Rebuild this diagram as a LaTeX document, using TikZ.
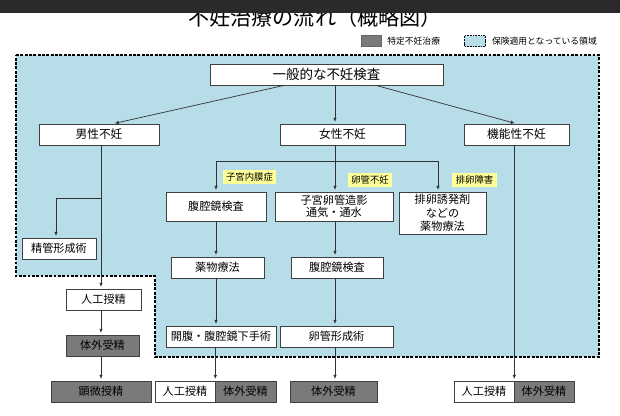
\documentclass[tikz,border=0pt]{standalone}
\usepackage{fontspec}
\setmainfont{Noto Sans CJK JP}
\usepackage{tikz}
\usetikzlibrary{arrows.meta, calc, positioning}
\definecolor{areablue}{RGB}{183,221,232}
\definecolor{ivfgray}{RGB}{122,122,122}
\definecolor{barblack}{RGB}{42,42,44}
\definecolor{memoyellow}{RGB}{255,255,153}
\tikzset{
	box/.style={draw=black!75, line width=0.5pt, fill=white, minimum width=#1*0.03cm,
		minimum height=0.63cm, inner sep=1pt, align=center,
		font=\fontsize{9.5}{11}\selectfont},
	box/.default=100,
	graybox/.style={box=#1, fill=ivfgray},
	graybox/.default=100,
	tag/.style={fill=memoyellow, inner xsep=3pt, inner ysep=2.5pt, font=\fontsize{8}{9}\selectfont}
}
\tikzset{
	flow/.style={draw=black!80, line width=0.6pt, -{Latex[length=3.5pt,width=3pt]}, shorten >=1.5pt},
	link/.style={draw=black!80, line width=0.6pt},
	legendtext/.style={font=\fontsize{7.5}{9}\selectfont, inner sep=1pt}
}

\begin{document}
\begin{tikzpicture}[x=0.03cm, y=-0.03cm]
      \useasboundingbox (0,0) rectangle (620,415);
      % area covered by insurance
      \fill[areablue] (16,55) -- (599,55) -- (599,357) -- (155,357) -- (155,276) -- (16,276) -- cycle;
      \draw[line width=0.9pt, dash pattern=on 2.5pt off 1.2pt]
        (16,55) -- (599,55) -- (599,357) -- (155,357) -- (155,276) -- (16,276) -- cycle;
      % title, half under the viewer bar
      \node[font=\fontsize{18}{21}\selectfont] (title) at (315,17) {不妊治療の流れ（概略図）};
      \fill[barblack] (0,0) rectangle (620,13);
      % legend
      \node[draw=black!60, fill=ivfgray, minimum width=0.6cm, minimum height=0.33cm, inner sep=0pt] (lgray) at (371,41) {};
      \node[legendtext, right=4pt of lgray] (lgraytx) {特定不妊治療};
      \node[draw, line width=0.8pt, dash pattern=on 1.5pt off 0.8pt, fill=areablue, minimum width=0.63cm,
        minimum height=0.33cm, inner sep=0pt] (lblue) at (475,41) {};
      \node[legendtext, right=4pt of lblue] (lbluetx) {保険適用となっている領域};

      \coordinate (mcol) at (101,0);
      \coordinate (fcol) at (335,0);
      \coordinate (mbr) at (56,198);
      \coordinate (fbrL) at (216,161);
      \coordinate (fbrR) at (438,161);

      \node[box=233, font=\fontsize{11.5}{13}\selectfont] (gen) at (326.5,74.5) {一般的な不妊検査};
      \node[box=120, font=\fontsize{10}{12}\selectfont] (male) at (99,134.5) {男性不妊};
      \node[box=125, font=\fontsize{10}{12}\selectfont] (female) at (342.5,134.5) {女性不妊};
      \node[box=105, font=\fontsize{10}{12}\selectfont] (func) at (516.5,134.5) {機能性不妊};

      \node[tag] (endo) at (249.5,177) {子宮内膜症};
      \node[tag] (tubal) at (370,180) {卵管不妊};
      \node[tag] (ovul) at (474.5,180) {排卵障害};

      \node[box=100, minimum height=0.87cm] (lap1) at (216,206.5) {腹腔鏡検査};
      \node[box=118, minimum height=0.87cm, font=\fontsize{9.5}{10.5}\selectfont] (hsg) at (334,206.5) {子宮卵管造影\\通気・通水};
      \node[box=87, minimum height=1.26cm, font=\fontsize{9.5}{11.5}\selectfont] (ovu) at (442.5,213) {排卵誘発剤\\などの\\薬物療法};
      \node[box=74] (vas) at (59,248.5) {精管形成術};
      \node[box=93] (drug) at (217.5,267.5) {薬物療法};
      \node[box=92] (lap2) at (337,267.5) {腹腔鏡検査};
      \node[box=75] (aih) at (103.5,299.5) {人工授精};
      \node[graybox=73] (ivfm) at (102.5,345.5) {体外受精};
      \node[box=110] (surg) at (221,336.5) {開腹・腹腔鏡下手術};
      \node[box=113] (tubo) at (336.5,336.5) {卵管形成術};
      \node[graybox=100] (icsi) at (101,391.5) {顕微授精};
      \node[box=60] (aihA) at (185,391.5) {人工授精};
      \node[graybox=61] (ivfA) at (245.5,391.5) {体外受精};
      \node[graybox=87] (ivfB) at (333.5,391.5) {体外受精};
      \node[box=60] (aihC) at (484,391.5) {人工授精};
      \node[graybox=60] (ivfC) at (544,391.5) {体外受精};

      % from the general examination
      \draw[flow] ($(gen.south west)!0.32!(gen.south east)$) -- ($(male.north)+(14,0)$);
      \draw[flow] (gen.south -| fcol) -- (female.north -| fcol);
      \draw[flow] ($(gen.south west)!0.71!(gen.south east)$) -- (func.north);

      % male
      \draw[flow] (male.south -| mcol) -- (aih.north -| mcol);
      \draw[flow] (mbr -| mcol) -- (mbr) -- (mbr |- vas.north);
      \draw[flow] (aih.south -| mcol) -- (ivfm.north -| mcol);
      \draw[flow] (ivfm.south -| mcol) -- (icsi.north -| mcol);

      % female
      \draw[link] (female.south -| fcol) -- (fbrL -| fcol);
      \draw[link] (fbrL) -- (fbrR);
      \draw[flow] (fbrL) -- (fbrL |- lap1.north);
      \draw[flow] (fbrL -| fcol) -- (hsg.north -| fcol);
      \draw[flow] (fbrR) -- (fbrR |- ovu.north);
      \draw[flow] (lap1.south -| fbrL) -- (drug.north -| fbrL);
      \draw[flow] (drug.south -| fbrL) -- (surg.north -| fbrL);
      \draw[flow] (surg.south -| aihA.east) -- (aihA.north east);
      \draw[flow] (hsg.south -| fcol) -- (lap2.north -| fcol);
      \draw[flow] (lap2.south -| fcol) -- (tubo.north -| fcol);
      \draw[flow] (tubo.south -| fcol) -- (ivfB.north -| fcol);

      % functional
      \draw[flow] (func.south -| aihC.east) -- (aihC.north east);
\end{tikzpicture}
\end{document}
